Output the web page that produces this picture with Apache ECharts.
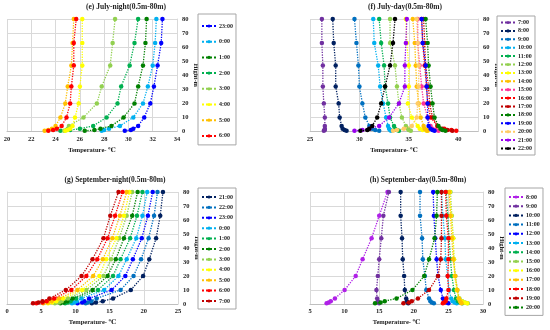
<!DOCTYPE html>
<html><head><meta charset="utf-8">
<script src="https://cdn.jsdelivr.net/npm/echarts@6/dist/echarts.min.js"></script>
<style>html,body{margin:0;padding:0;background:#fff}#c{width:550px;height:330px}</style>
</head><body><div id="c"></div>
<script>
// heights (m)
const heights = [0.5, 1, 2, 4, 10, 20, 32, 47, 63, 80];

// (e) July-night
const eNames = ['23:00','0:00','1:00','2:00','3:00','4:00','5:00','6:00'];
const eColors = ['#0000FF','#00B0F0','#008000','#00B050','#92D050','#FFFF00','#FFC000','#FF0000'];
const e2300 = [29.7, 30.2, 30.4, 30.8, 31.3, 31.8, 32.1, 32.4, 32.7, 32.8];
const e0000 = [27.8, 28.0, 28.4, 29.3, 30.4, 31.2, 31.6, 32.0, 32.2, 32.3];
const e0100 = [26.4, 27.2, 27.7, 28.6, 29.6, 30.5, 30.8, 31.2, 31.4, 31.5];
const e0200 = [24.4, 25.2, 26.0, 27.1, 28.2, 29.1, 29.4, 30.1, 30.5, 30.8];
const e0300 = [24.7, 24.9, 25.0, 25.1, 26.3, 27.4, 27.8, 28.5, 28.7, 28.9];
const e0400 = [24.8, 25.0, 25.2, 25.4, 25.6, 25.9, 26.0, 26.2, 26.2, 26.2];
const e0500 = [23.1, 23.4, 23.7, 24.0, 24.4, 24.8, 25.0, 25.3, 25.4, 25.5];
const e0600 = [23.4, 23.8, 24.1, 24.5, 24.9, 25.2, 25.3, 25.5, 25.5, 25.7];
const eData = [e2300, e0000, e0100, e0200, e0300, e0400, e0500, e0600];

// (f) July-day
const fNames = ['7:00','8:00','9:00','10:00','11:00','12:00','13:00','14:00','15:00','16:00','17:00','18:00','19:00','20:00','21:00','22:00'];
const fColors = ['#7030A0','#002060','#0070C0','#00B0F0','#00B050','#92D050','#FFFF00','#FFC000','#FF3399','#FF0000','#C00000','#008000','#0000FF','#FFCC66','#9900EE','#000000'];
const f0700 = [26.4, 26.5, 26.5, 26.5, 26.5, 26.4, 26.3, 26.3, 26.2, 26.2];
const f0800 = [28.7, 28.5, 28.3, 28.2, 28.0, 27.9, 27.6, 27.6, 27.4, 27.3];
const f0900 = [32.0, 31.6, 31.3, 31.0, 30.6, 30.3, 30.0, 29.9, 29.7, 29.5];
const f1000 = [33.2, 33.1, 33.0, 32.9, 32.7, 32.4, 32.1, 31.9, 31.5, 31.4];
const f1100 = [34.0, 33.8, 33.6, 33.5, 33.1, 32.9, 32.6, 32.5, 32.2, 32.0];
const f1200 = [35.2, 35.0, 34.9, 34.7, 34.3, 34.0, 33.8, 33.6, 33.1, 33.1];
const f1300 = [36.8, 36.4, 36.1, 35.9, 35.3, 34.9, 35.0, 35.0, 34.8, 34.7];
const f1400 = [36.9, 36.8, 36.6, 36.5, 36.2, 36.0, 35.8, 35.7, 35.6, 35.4];
const f1500 = [38.0, 37.7, 37.4, 37.2, 36.9, 36.5, 36.3, 36.1, 35.9, 35.9];
const f1600 = [39.8, 39.3, 38.6, 37.9, 37.2, 36.9, 36.8, 36.6, 36.4, 36.3];
const f1700 = [39.4, 38.9, 38.4, 37.9, 37.4, 37.1, 37.0, 36.7, 36.6, 36.5];
const f1800 = [38.7, 38.4, 38.2, 38.0, 37.6, 37.4, 37.2, 37.0, 36.9, 36.7];
const f1900 = [37.6, 37.4, 37.2, 37.0, 36.9, 36.9, 36.8, 36.7, 36.4, 36.3];
const f2000 = [33.4, 33.8, 34.5, 35.3, 35.8, 35.9, 36.0, 36.0, 35.9, 35.8];
const f2100 = [29.5, 30.3, 31.0, 32.0, 33.0, 34.0, 34.6, 34.6, 34.7, 34.8];
const f2200 = [30.1, 30.8, 31.0, 31.3, 31.8, 32.2, 32.6, 33.1, 33.4, 33.6];
const fData = [f0700, f0800, f0900, f1000, f1100, f1200, f1300, f1400, f1500, f1600, f1700, f1800, f1900, f2000, f2100, f2200];

// (g) September-night
const gNames = ['21:00','22:00','23:00','0:00','1:00','2:00','3:00','4:00','5:00','6:00','7:00'];
const gColors = ['#002060','#0070C0','#0000FF','#00B0F0','#00B050','#008000','#92D050','#FFFF00','#FFC000','#FF0000','#C00000'];
const g2100 = [12.4, 13.0, 14.0, 15.5, 18.1, 19.9, 20.8, 21.8, 22.4, 22.8];
const g2200 = [11.5, 11.8, 12.3, 13.1, 16.6, 18.5, 19.6, 20.7, 21.5, 22.0];
const g2300 = [10.3, 11.0, 11.3, 12.0, 15.3, 17.3, 18.4, 19.7, 20.6, 21.3];
const g0000 = [9.5, 9.8, 10.2, 10.9, 14.2, 16.3, 17.5, 18.9, 19.8, 20.5];
const g0100 = [8.5, 8.9, 9.3, 10.1, 13.3, 15.5, 16.6, 18.0, 19.0, 19.8];
const g0200 = [7.8, 8.3, 8.8, 9.6, 12.5, 14.7, 15.9, 17.1, 18.3, 19.1];
const g0300 = [7.0, 7.6, 8.0, 8.9, 11.6, 14.1, 15.2, 16.4, 17.5, 18.3];
const g0400 = [6.0, 6.6, 7.2, 8.2, 11.0, 13.5, 14.5, 16.0, 17.1, 17.9];
const g0500 = [5.3, 6.0, 6.5, 7.6, 10.3, 12.6, 14.0, 15.4, 16.5, 17.5];
const g0600 = [4.3, 5.2, 5.8, 6.9, 9.4, 11.6, 13.2, 14.7, 15.8, 16.9];
const g0700 = [3.8, 4.6, 5.2, 6.2, 8.6, 10.9, 12.5, 14.1, 15.1, 16.3];
const gData = [g2100, g2200, g2300, g0000, g0100, g0200, g0300, g0400, g0500, g0600, g0700];

// (h) September-day
const hNames = ['8:00','9:00','10:00','11:00','12:00','13:00','14:00','15:00','16:00','17:00','18:00','19:00','20:00'];
const hColors = ['#B020E8','#7030A0','#002060','#0070C0','#0000FF','#00B0F0','#00B050','#92D050','#FFFF00','#FFC000','#FF0000','#C00000','#008000'];
const h0800 = [7.4, 7.7, 8.0, 8.6, 10.0, 11.6, 12.6, 13.9, 15.0, 16.2];
const h0900 = [15.0, 14.9, 14.8, 14.7, 14.6, 14.8, 15.0, 15.3, 15.6, 16.4];
const h1000 = [19.2, 19.1, 19.0, 18.9, 18.7, 18.6, 18.4, 18.3, 18.1, 18.1];
const h1100 = [22.9, 22.6, 22.4, 22.2, 21.8, 21.6, 21.3, 21.2, 20.9, 20.9];
const h1200 = [25.0, 24.7, 24.4, 24.2, 23.9, 23.5, 23.3, 23.1, 22.9, 22.8];
const h1300 = [26.2, 25.9, 25.6, 25.4, 25.1, 24.9, 24.6, 24.5, 24.2, 24.0];
const h1400 = [27.0, 26.7, 26.4, 26.1, 25.8, 25.5, 25.3, 25.1, 24.9, 24.7];
const h1500 = [27.8, 27.4, 27.0, 26.6, 26.3, 26.0, 25.8, 25.7, 25.5, 25.3];
const h1600 = [27.7, 27.3, 26.9, 26.5, 26.2, 25.9, 25.8, 25.7, 25.4, 25.2];
const h1700 = [26.9, 26.8, 26.7, 26.5, 26.3, 26.0, 25.7, 25.5, 25.3, 25.1];
const h1800 = [24.2, 24.4, 24.6, 24.7, 25.0, 24.9, 25.0, 25.0, 24.7, 24.6];
const h1900 = [18.5, 19.3, 19.7, 20.6, 22.2, 23.5, 23.9, 24.0, 24.0, 24.0];
const h2000 = [14.4, 15.2, 15.8, 17.5, 19.8, 21.5, 22.2, 23.0, 23.3, 23.4];
const hData = [h0800, h0900, h1000, h1100, h1200, h1300, h1400, h1500, h1600, h1700, h1800, h1900, h2000];

// axis ranges / tick labels
const xMins = [20, 25, 0, 5];
const xMaxs = [34, 42, 25, 30];
const xSteps = [2, 5, 5, 5];
const titles = ['(e) July-night(0.5m-80m)', '(f) July-day(0.5m-80m)', '(g) September-night(0.5m-80m)', '(h) September-day(0.5m-80m)'];

const SERIF = '"Liberation Serif", "DejaVu Serif", serif';
const panels = [
  {names: eNames, colors: eColors, data: eData, grid: {left: 7, top: 19, width: 170, height: 112.5}, yGap: 12,
   legend: {left: 198, top: 14, gap: 7.7, lh: 8, pad: [8, 3, 5, 3]}, title: [126, 7]},
  {names: fNames, colors: fColors, data: fData, grid: {left: 310, top: 19, width: 168, height: 112.5}, yGap: 11,
   legend: {left: 497, top: 16, gap: 1.4, lh: 7, pad: [3, 3, 3, 3]}, title: [405, 7]},
  {names: gNames, colors: gColors, data: gData, grid: {left: 7, top: 192, width: 171, height: 112}, yGap: 12,
   legend: {left: 198, top: 188, gap: 2.4, lh: 8, pad: [5, 3, 4, 3]}, title: [115, 180]},
  {names: hNames, colors: hColors, data: hData, grid: {left: 310, top: 192, width: 173, height: 112}, yGap: 9,
   legend: {left: 505, top: 188, gap: 1.2, lh: 8, pad: [5, 3, 4, 3]}, title: [418, 180]}
];

const grids = [], xAxes = [], yAxes = [], legends = [], series = [], graphics = [];
panels.forEach((p, k) => {
  grids.push(Object.assign({containLabel: false}, p.grid));
  xAxes.push({
    type: 'value', gridIndex: k, min: xMins[k], max: xMaxs[k], interval: xSteps[k],
    name: 'Temperature- ℃', nameLocation: 'middle', nameGap: 15,
    nameTextStyle: {fontFamily: SERIF, fontWeight: 'bold', fontSize: 6.5, color: '#222'},
    axisLine: {show: true, lineStyle: {color: '#bfbfbf', width: 1}},
    axisTick: {show: false},
    axisLabel: {fontFamily: SERIF, fontWeight: 'bold', fontSize: 6.5, color: '#222', margin: 4, showMaxLabel: k !== 1},
    splitLine: {show: true, lineStyle: {color: '#d9d9d9', width: 1}}
  });
  yAxes.push({
    type: 'value', gridIndex: k, position: 'right', min: 0, max: 80, interval: 10,
    name: 'Hight-m', nameLocation: 'middle', nameGap: p.yGap, nameRotate: -90,
    nameTextStyle: {fontFamily: SERIF, fontWeight: 'bold', fontSize: 6.5, color: '#222'},
    axisLine: {show: true, lineStyle: {color: '#d9d9d9', width: 1}},
    axisTick: {show: false},
    axisLabel: {fontFamily: SERIF, fontWeight: 'bold', fontSize: 6.5, color: '#222', margin: 5},
    splitLine: {show: true, lineStyle: {color: '#d9d9d9', width: 1}}
  });
  const legNames = p.names.map(n => k + '|' + n);
  legends.push({
    orient: 'vertical', left: p.legend.left, top: p.legend.top, data: legNames,
    itemGap: p.legend.gap, itemWidth: 14, itemHeight: 4, padding: p.legend.pad,
    borderColor: '#a6a6a6', borderWidth: 1, backgroundColor: '#fff',
    formatter: n => n.split('|')[1],
    textStyle: {fontFamily: SERIF, fontWeight: 'bold', fontSize: 6, color: '#222', lineHeight: p.legend.lh, padding: [0, 0, 0, -2]},
    selectedMode: false
  });
  p.data.forEach((arr, i) => {
    series.push({
      type: 'line', name: legNames[i], xAxisIndex: k, yAxisIndex: k,
      data: arr.map((t, j) => [t, heights[j]]),
      symbol: 'circle', symbolSize: 4.5, showSymbol: true,
      lineStyle: {type: 'dotted', width: 1.3, color: p.colors[i]},
      itemStyle: {color: p.colors[i]},
      animation: false, z: 2 + i / 100
    });
  });
  graphics.push({
    type: 'text', x: p.title[0], y: p.title[1],
    style: {text: titles[k], textAlign: 'center', textVerticalAlign: 'middle',
      font: 'bold 7.5px ' + SERIF, fill: '#222'}
  });
});

const chart = echarts.init(document.getElementById('c'), null, {renderer: 'canvas'});
chart.setOption({
  animation: false, backgroundColor: '#fff',
  grid: grids, xAxis: xAxes, yAxis: yAxes, legend: legends, series: series, graphic: graphics
});
</script></body></html>
